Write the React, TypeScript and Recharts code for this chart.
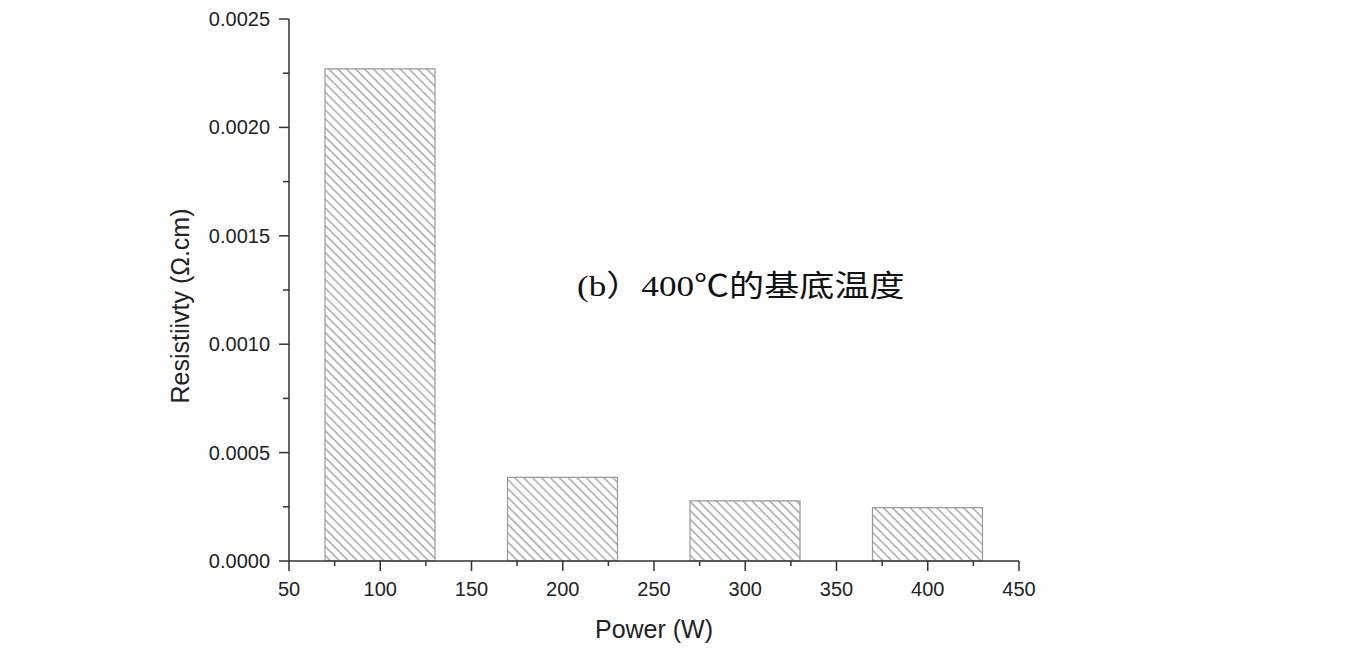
import { BarChart, Bar, XAxis, YAxis, Label } from "recharts";

const powers = [100, 200, 300, 400];
const resistivity = [0.00227, 0.000386, 0.000277, 0.000246];
const xTicks = [50, 75, 100, 125, 150, 175, 200, 225, 250, 275, 300, 325, 350, 375, 400, 425, 450];
const yTicks = [0, 0.00025, 0.0005, 0.00075, 0.001, 0.00125, 0.0015, 0.00175, 0.002, 0.00225, 0.0025];
const annotation = "(b）400℃的基底温度";

const data = powers.map((p, i) => ({ power: p, resistivity: resistivity[i] }));

const SANS = '"Liberation Sans", Arial, sans-serif';
const AXIS = "#333";

function XTick(props: any) {
  const { x, y, payload } = props;
  const major = payload.value % 50 === 0;
  return (
    <g>
      <line x1={x} x2={x} y1={y} y2={y + (major ? 10 : 5)} stroke={AXIS} strokeWidth={1.5} />
      {major && (
        <text x={x} y={y + 35} textAnchor="middle" fontSize={20} fontFamily={SANS} fill="#222">
          {payload.value}
        </text>
      )}
    </g>
  );
}

function YTick(props: any) {
  const { x, y, payload } = props;
  const major = Math.round(payload.value / 0.00025) % 2 === 0;
  return (
    <g>
      <line x1={x - (major ? 10 : 6)} x2={x} y1={y} y2={y} stroke={AXIS} strokeWidth={1.5} />
      {major && (
        <text x={x - 19} y={y} dy="0.35em" textAnchor="end" fontSize={20} fontFamily={SANS} fill="#222">
          {payload.value.toFixed(4)}
        </text>
      )}
    </g>
  );
}

export default function App() {
  return (
    <div style={{ position: "absolute", left: 0, top: 0, width: 1372, height: 660, background: "#fff" }}>
      <BarChart
        width={1372}
        height={660}
        data={data}
        margin={{ top: 19, right: 353, left: 169, bottom: 29 }}
      >
        <defs>
          <pattern id="hatch" patternUnits="userSpaceOnUse" width={6.3} height={6.3} patternTransform="rotate(-45)">
            <line x1={1} y1={0} x2={1} y2={6.3} stroke="#8a8a8a" strokeWidth={1.1} />
          </pattern>
        </defs>
        <XAxis
          dataKey="power"
          type="number"
          domain={[50, 450]}
          ticks={xTicks}
          interval={0}
          height={70}
          tickSize={0}
          tickMargin={0}
          tickLine={false}
          tick={<XTick />}
          axisLine={{ stroke: AXIS, strokeWidth: 1.5 }}
        >
          <Label
            content={({ viewBox }: any) => (
              <text
                x={viewBox.x + viewBox.width / 2}
                y={638}
                textAnchor="middle"
                fontSize={25}
                fontFamily={SANS}
                fill="#222"
              >
                Power (W)
              </text>
            )}
          />
        </XAxis>
        <YAxis
          type="number"
          domain={[0, 0.0025]}
          ticks={yTicks}
          interval={0}
          width={120}
          tickSize={0}
          tickMargin={0}
          tickLine={false}
          tick={<YTick />}
          axisLine={{ stroke: AXIS, strokeWidth: 1.5 }}
        >
          <Label
            content={() => (
              <text
                x={180}
                y={306}
                transform="rotate(-90 180 306)"
                textAnchor="middle"
                dominantBaseline="central"
                fontSize={25}
                fontFamily={SANS}
                fill="#222"
              >
                Resistiivty (Ω.cm)
              </text>
            )}
          />
        </YAxis>
        <Bar
          dataKey="resistivity"
          barSize={110}
          fill="url(#hatch)"
          stroke="#999"
          strokeWidth={1.2}
          isAnimationActive={false}
        />
      </BarChart>
      <div
        style={{
          position: "absolute",
          left: 577,
          top: 271,
          fontSize: 30,
          lineHeight: "30px",
          whiteSpace: "nowrap",
          fontFamily: '"Liberation Serif", "Noto Sans CJK SC", serif',
          color: "#111",
          transform: "scaleX(1.17)",
          transformOrigin: "left top",
        }}
      >
        {annotation}
      </div>
    </div>
  );
}
